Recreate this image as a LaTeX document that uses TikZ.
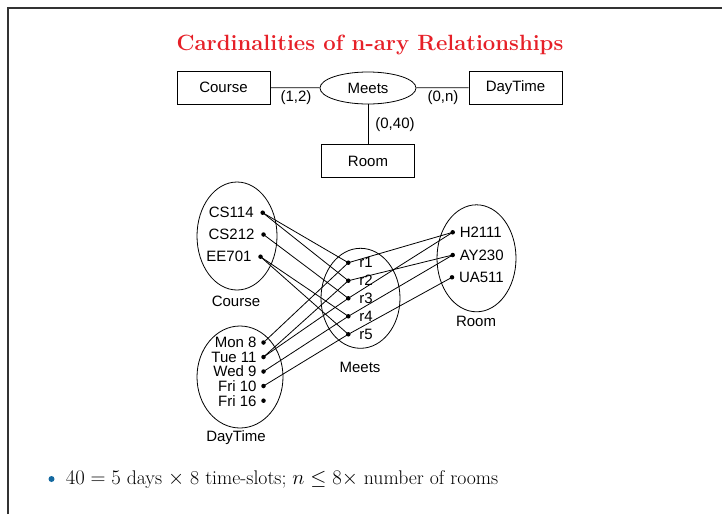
\documentclass[tikz,border=0pt]{standalone}
\usepackage{fontspec}
\newfontfamily\erfont{Liberation Sans}
\usetikzlibrary{shapes.geometric}
\definecolor{titlered}{RGB}{230,32,40}
\definecolor{bulletblue}{RGB}{20,105,160}
\definecolor{framegray}{RGB}{50,50,50}

\begin{document}
\begin{tikzpicture}[x=1pt,y=-1pt,line width=0.8pt,
  every node/.style={font=\erfont\fontsize{15}{18}\selectfont},
  entity/.style={draw,minimum width=93pt,minimum height=33pt,inner sep=0pt},
  relship/.style={draw,ellipse,minimum width=96pt,minimum height=32pt,inner sep=0pt},
  valset/.style={draw,ellipse,inner sep=0pt},
  elem/.style={circle,fill,inner sep=0pt,minimum size=4.5pt},
  card/.style={inner sep=0pt}]
  \useasboundingbox (0,0) rectangle (722,514);
  \draw[framegray,line width=2pt] (8,514) -- (8,8) -- (722,8);

  \node[text=titlered,font=\fontsize{22.1}{26}\selectfont\bfseries,anchor=base] (title) at (370,50)
    {Cardinalities of n-ary Relationships};

  \node[entity] (course) at (223.5,87.5) {Course};
  \node[relship] (meets) at (368,88) {Meets};
  \node[entity] (daytime) at (515.5,87.5) {DayTime};
  \node[entity] (room) at (368,161) {Room};
  \draw (course) -- (meets) -- (daytime);
  \draw (meets) -- (room);
  \node[card] (c12) at (296,98) {(1,2)};
  \node[card] (c0n) at (443,98) {(0,n)};
  \node[card] (c040) at (395,125) {(0,40)};

  \node[valset,minimum width=80pt,minimum height=108pt] (cset) at (237,236) {};
  \node[valset,minimum width=86pt,minimum height=102pt] (dset) at (240,377) {};
  \node[valset,minimum width=79pt,minimum height=100pt] (mset) at (360.5,298.3) {};
  \node[valset,minimum width=79pt,minimum height=107pt] (rset) at (476.5,258.3) {};
  \node (csetname) at (236,301) {Course};
  \node (dsetname) at (236,437.5) {DayTime};
  \node (msetname) at (360,367) {Meets};
  \node (rsetname) at (476,321) {Room};

  \node[elem,label={[inner sep=0pt,label distance=6pt]left:CS114}] (cs114) at (262.7,212.7) {};
  \node[elem,label={[inner sep=0pt,label distance=6pt]left:CS212}] (cs212) at (263.5,234.5) {};
  \node[elem,label={[inner sep=0pt,label distance=6pt]left:EE701}] (ee701) at (260.5,256.7) {};

  \node[elem,label={[inner sep=0pt,label distance=4pt]left:Mon 8}] (mon8) at (263.5,342.5) {};
  \node[elem,label={[inner sep=0pt,label distance=4pt]left:Tue 11}] (tue11) at (263.5,357) {};
  \node[elem,label={[inner sep=0pt,label distance=4pt]left:Wed 9}] (wed9) at (263.5,371.5) {};
  \node[elem,label={[inner sep=0pt,label distance=4pt]left:Fri 10}] (fri10) at (263.5,386) {};
  \node[elem,label={[inner sep=0pt,label distance=4pt]left:Fri 16}] (fri16) at (263.5,400.7) {};

  \node[elem,label={[inner sep=0pt,label distance=8pt]right:r1}] (r1) at (348.3,262.7) {};
  \node[elem,label={[inner sep=0pt,label distance=8pt]right:r2}] (r2) at (348.3,280.7) {};
  \node[elem,label={[inner sep=0pt,label distance=8pt]right:r3}] (r3) at (348.3,298.3) {};
  \node[elem,label={[inner sep=0pt,label distance=8pt]right:r4}] (r4) at (348.3,316.3) {};
  \node[elem,label={[inner sep=0pt,label distance=8pt]right:r5}] (r5) at (348.3,334.3) {};

  \node[elem,label={[inner sep=0pt,label distance=4pt]right:H2111}] (h2111) at (452.7,232.3) {};
  \node[elem,label={[inner sep=0pt,label distance=4pt]right:AY230}] (ay230) at (452.7,255) {};
  \node[elem,label={[inner sep=0pt,label distance=4pt]right:UA511}] (ua511) at (452,277.3) {};

  \draw (cs114.center) -- (r1.center);
  \draw (cs114.center) -- (r2.center);
  \draw (cs212.center) -- (r3.center);
  \draw (ee701.center) -- (r4.center);
  \draw (ee701.center) -- (r5.center);

  \draw (mon8.center) -- (r1.center);
  \draw (tue11.center) -- (r2.center);
  \draw (tue11.center) -- (r3.center);
  \draw (wed9.center) -- (r4.center);
  \draw (fri10.center) -- (r5.center);

  \draw (r1.center) -- (h2111.center);
  \draw (r2.center) -- (ay230.center);
  \draw (r3.center) -- (h2111.center);
  \draw (r4.center) -- (ay230.center);
  \draw (r5.center) -- (ua511.center);

  \node[circle,fill=bulletblue,inner sep=0pt,minimum size=6pt] (bul) at (51.5,479) {};
  \node[anchor=base west,inner sep=0pt,font=\fontsize{19.75}{24}\selectfont] (note) at (65.5,484.5)
    {$40 = 5$ days $\times$ 8 time-slots; $n \leq 8\times$ number of rooms};
\end{tikzpicture}
\end{document}
